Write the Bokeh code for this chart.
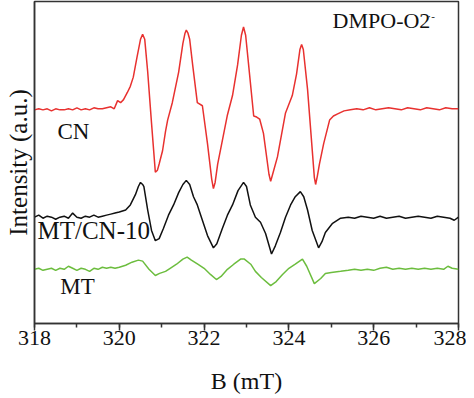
from bokeh.plotting import figure
from bokeh.models import Range1d, FixedTicker
from bokeh.core.properties import value
from bokeh.embed import file_html
from bokeh.resources import INLINE

# ---- data (B in mT, intensity in arbitrary units) ----
cn_b = [318.00, 318.10, 318.20, 318.30, 318.40, 318.50, 318.60, 318.70, 318.80, 318.90,
        319.00, 319.10, 319.20, 319.30, 319.40, 319.50, 319.60, 319.70, 319.80, 319.88,
        319.96, 320.03, 320.10, 320.19, 320.26, 320.33, 320.42, 320.50, 320.55, 320.60,
        320.67, 320.76, 320.85, 320.90, 320.94, 321.02, 321.09, 321.14, 321.25, 321.40,
        321.50, 321.55, 321.58, 321.62, 321.66, 321.73, 321.84, 321.96, 322.08, 322.18,
        322.22, 322.26, 322.32, 322.43, 322.55, 322.67, 322.79, 322.88, 322.93, 322.98,
        323.05, 323.17, 323.24, 323.31, 323.40, 323.53, 323.57, 323.61, 323.73, 323.92,
        324.08, 324.18, 324.26, 324.30, 324.34, 324.44, 324.52, 324.60, 324.63, 324.67,
        324.72, 324.82, 324.96, 325.05, 325.15, 325.30, 325.45, 325.60, 325.75, 325.90,
        326.05, 326.20, 326.35, 326.50, 326.65, 326.80, 326.95, 327.10, 327.25, 327.40,
        327.55, 327.70, 327.85, 328.00]
cn_i = [209, 210, 209, 210, 208, 210, 209, 209, 210, 209,
        211, 209, 210, 209, 211, 210, 210, 211, 212, 210,
        218, 216, 219, 226, 232, 241, 261, 278, 283, 278,
        246, 196, 148, 150, 156, 169, 188, 199, 216, 246,
        274, 284, 287, 284, 278, 253, 216, 213, 176, 141,
        132, 138, 156, 179, 204, 223, 253, 282, 290, 282,
        253, 203, 202, 200, 186, 146, 139, 145, 163, 206,
        223, 244, 268, 273, 268, 229, 186, 143, 136, 144,
        156, 176, 199, 203, 205, 208, 209, 210, 209, 211,
        209, 210, 211, 210, 209, 211, 210, 209, 211, 210,
        209, 211, 210, 210]

mtcn_b = [318.00, 318.10, 318.20, 318.30, 318.40, 318.50, 318.60, 318.70, 318.80, 318.90,
          319.00, 319.10, 319.20, 319.30, 319.40, 319.50, 319.60, 319.70, 319.80, 319.90,
          320.00, 320.15, 320.26, 320.38, 320.45, 320.50, 320.55, 320.58, 320.67, 320.76,
          320.85, 320.94, 321.04, 321.16, 321.28, 321.40, 321.50, 321.58, 321.66, 321.75,
          321.84, 321.92, 322.08, 322.22, 322.30, 322.43, 322.55, 322.67, 322.80, 322.93,
          323.00, 323.09, 323.21, 323.33, 323.45, 323.59, 323.68, 323.80, 323.92, 324.04,
          324.15, 324.27, 324.35, 324.44, 324.55, 324.70, 324.78, 324.86, 325.03, 325.22,
          325.40, 325.55, 325.70, 325.85, 326.00, 326.15, 326.30, 326.45, 326.60, 326.75,
          326.90, 327.05, 327.20, 327.35, 327.50, 327.65, 327.80, 327.90, 328.00]
mtcn_i = [104, 106, 103, 105, 104, 102, 104, 105, 103, 108,
          104, 103, 105, 104, 106, 104, 105, 106, 107, 108,
          109, 111, 116, 126, 134, 138, 136, 134, 111, 91,
          81, 83, 93, 106, 116, 128, 136, 140, 136, 124,
          116, 106, 86, 74, 78, 93, 106, 116, 130, 138,
          134, 116, 104, 99, 88, 68, 76, 89, 104, 116,
          124, 129, 124, 111, 91, 74, 80, 89, 98, 103,
          104, 103, 105, 104, 103, 105, 103, 104, 105, 103,
          104, 105, 104, 103, 105, 104, 103, 101, 104]

mt_b = [318.00, 318.10, 318.20, 318.30, 318.40, 318.50, 318.60, 318.70, 318.80, 318.90,
        319.00, 319.10, 319.20, 319.30, 319.40, 319.50, 319.60, 319.70, 319.80, 319.90,
        320.00, 320.15, 320.30, 320.45, 320.55, 320.70, 320.85, 320.95, 321.09, 321.20,
        321.35, 321.50, 321.60, 321.70, 321.85, 322.00, 322.15, 322.29, 322.40, 322.55,
        322.70, 322.86, 322.95, 323.10, 323.21, 323.35, 323.57, 323.70, 323.85, 324.00,
        324.15, 324.32, 324.42, 324.60, 324.75, 324.86, 325.00, 325.22, 325.40, 325.55,
        325.70, 325.85, 326.00, 326.15, 326.30, 326.45, 326.60, 326.75, 326.90, 327.05,
        327.20, 327.35, 327.50, 327.65, 327.75, 327.85, 328.00]
mt_i = [53, 54, 52, 53, 54, 52, 54, 53, 56, 54,
        52, 54, 53, 51, 54, 53, 55, 54, 55, 54,
        55, 57, 60, 62, 61, 53, 47, 49, 51, 54,
        58, 63, 65, 62, 58, 54, 48, 43, 46, 53,
        58, 63, 63, 58, 51, 45, 37, 41, 48, 54,
        58, 63, 56, 39, 44, 49, 50, 51, 52, 53,
        52, 53, 52, 54, 55, 53, 54, 53, 54, 53,
        54, 53, 54, 53, 56, 54, 53]

x_ticks = [318, 320, 322, 324, 326, 328]
labels_text = ["CN", "MT"]
labels_b = [318.54, 318.61]
labels_i = [188, 36]
label2_text = ["MT/CN-10"]
label2_b = [318.07]
label2_i = [91]

FONT = "Liberation Serif"

p = figure(width=466, height=396, output_backend="svg", toolbar_location=None,
           x_range=Range1d(318, 328), y_range=Range1d(0, 315),
           min_border_left=34, min_border_right=8, min_border_top=1, min_border_bottom=10)

p.line(cn_b, cn_i, line_color="#e8312f", line_width=1.5)
p.line(mtcn_b, mtcn_i, line_color="#111111", line_width=1.5)
p.line(mt_b, mt_i, line_color="#6cbd3e", line_width=1.5)

p.text(x=labels_b, y=labels_i, text=labels_text, text_font=value(FONT),
       text_font_size="23px", text_baseline="middle", text_align="left", text_color="#111111")
p.text(x=label2_b, y=label2_i, text=label2_text, text_font=value(FONT),
       text_font_size="25px", text_baseline="middle", text_align="left", text_color="#111111")
p.text(x=[325.03], y=[296], text=["DMPO-O2"], text_font=value(FONT),
       text_font_size="22px", text_baseline="middle", text_align="left", text_color="#111111")
p.text(x=[327.27], y=[301], text=["·-"], text_font=value(FONT),
       text_font_size="11px", text_baseline="middle", text_align="left", text_color="#111111")

p.grid.visible = False
p.outline_line_color = "#333333"
p.outline_line_width = 1.5

xa = p.xaxis[0]
xa.ticker = FixedTicker(ticks=x_ticks, minor_ticks=list(range(318, 329)))
xa.axis_label = "B (mT)"
xa.axis_label_text_font = FONT
xa.axis_label_text_font_style = "normal"
xa.axis_label_text_font_size = "24px"
xa.axis_label_standoff = 20
xa.major_label_text_font = FONT
xa.major_label_text_font_size = "22px"
xa.major_label_standoff = 0
xa.major_tick_out = 7
xa.major_tick_in = 0
xa.minor_tick_out = 4
xa.minor_tick_in = 0
xa.axis_line_color = "#333333"
xa.axis_line_width = 1.5
xa.major_tick_line_color = "#333333"
xa.major_tick_line_width = 1.5
xa.minor_tick_line_color = "#333333"
xa.minor_tick_line_width = 1.5
xa.major_label_text_color = "#111111"
xa.axis_label_text_color = "#111111"

ya = p.yaxis[0]
ya.ticker = FixedTicker(ticks=[])
ya.axis_label = "Intensity (a.u.)"
ya.axis_label_text_font = FONT
ya.axis_label_text_font_style = "normal"
ya.axis_label_text_font_size = "25px"
ya.axis_label_standoff = 3
ya.major_label_text_font_size = "0px"
ya.major_tick_out = 0
ya.minor_tick_out = 0
ya.axis_line_color = "#333333"
ya.axis_line_width = 1.5
ya.axis_label_text_color = "#111111"

open("out.html", "w").write(file_html(p, INLINE))
